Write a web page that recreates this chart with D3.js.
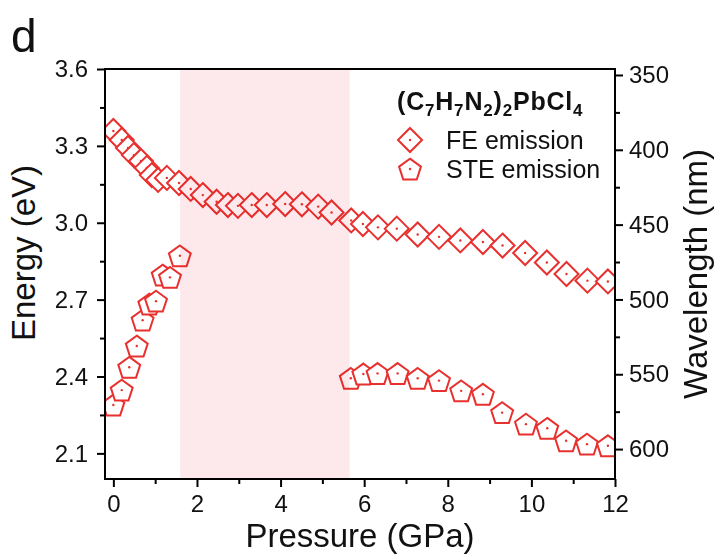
<!DOCTYPE html>
<html>
<head>
<meta charset="utf-8">
<script src="https://cdn.jsdelivr.net/npm/d3@7"></script>
<style>
  body { margin: 0; background: #fff; }
  text { font-family: 'Liberation Sans', Arial, sans-serif; }
</style>
</head>
<body>
<div id="chart"></div>
<script>
// FE emission (diamonds)
const fePressure = [0.0, 0.20, 0.35, 0.49, 0.66, 0.80, 0.92, 1.07, 1.28, 1.57,
  1.85, 2.14, 2.47, 2.74, 2.98, 3.31, 3.67, 4.11, 4.51, 4.90,
  5.22, 5.69, 5.97, 6.33, 6.78, 7.28, 7.79, 8.30, 8.84, 9.31,
  9.85, 10.37, 10.84, 11.34, 11.83]
const feEnergy = [3.358, 3.323, 3.292, 3.264, 3.241, 3.214, 3.186, 3.167, 3.175, 3.155,
  3.132, 3.108, 3.082, 3.069, 3.066, 3.069, 3.069, 3.073, 3.072, 3.063,
  3.040, 3.009, 2.995, 2.982, 2.977, 2.954, 2.945, 2.931, 2.925, 2.911,
  2.882, 2.845, 2.800, 2.774, 2.771]

// STE emission (pentagons)
const stePressure = [0.0, 0.20, 0.38, 0.56, 0.70, 0.86, 1.02, 1.18, 1.355, 1.59,
  5.68, 5.98, 6.32, 6.80, 7.28, 7.79, 8.32, 8.84, 9.30, 9.87, 10.38, 10.83, 11.33, 11.83]
const steEnergy = [2.289, 2.347, 2.436, 2.519, 2.620, 2.683, 2.694, 2.796, 2.787, 2.871,
  2.393, 2.410, 2.412, 2.412, 2.393, 2.384, 2.344, 2.331, 2.259, 2.214, 2.198, 2.149, 2.136, 2.130]

// shaded pressure range (GPa)
const bandRange = [1.6, 5.65]

const xDomain = [-0.2, 12]
const yDomain = [2.0, 3.6]
const wlDomain = [620, 346]
const xTicks = [0, 2, 4, 6, 8, 10, 12]
const xMinorTicks = [1, 3, 5, 7, 9, 11]
const yTicks = [2.1, 2.4, 2.7, 3.0, 3.3, 3.6]
const yMinorTicks = [2.25, 2.55, 2.85, 3.15, 3.45]
const wlTicks = [350, 400, 450, 500, 550, 600]
const wlMinorTicks = [375, 425, 475, 525, 575]

const width = 726
const height = 556
const plotLeft = 105, plotRight = 615, plotTop = 69, plotBottom = 479
const red = '#e8302e'
const bandColor = '#fde8eb'

const svg = d3.select('#chart')
  .append('svg')
  .attr('width', width)
  .attr('height', height)
  .attr('viewBox', `0 0 ${width} ${height}`)

const x = d3.scaleLinear().domain(xDomain).range([plotLeft, plotRight])
const y = d3.scaleLinear().domain(yDomain).range([plotBottom, plotTop])
const yWl = d3.scaleLinear().domain(wlDomain).range([plotBottom, plotTop])

svg.append('defs').append('clipPath').attr('id', 'plot-clip')
  .append('rect')
  .attr('x', plotLeft).attr('y', plotTop)
  .attr('width', plotRight - plotLeft).attr('height', plotBottom - plotTop)

const plot = svg.append('g').attr('clip-path', 'url(#plot-clip)')

// marker shapes
const diamond = (r) => `M0,${-r}L${r},0L0,${r}L${-r},0Z`
const pentagon = (r) => {
  const pts = d3.range(5).map((k) => {
    const a = -Math.PI / 2 + k * 2 * Math.PI / 5
    return [r * Math.cos(a), r * Math.sin(a) + r * 0.1]
  })
  return 'M' + pts.map((p) => p.join(',')).join('L') + 'Z'
}

function drawSeries(g, px, py, shape) {
  const data = px.map((p, i) => ({ p, e: py[i] }))
  const pts = g.append('g')
    .selectAll('g')
    .data(data)
    .join('g')
    .attr('transform', (d) => `translate(${x(d.p)},${y(d.e)})`)
  pts.append('path')
    .attr('d', shape)
    .attr('fill', '#fff')
    .attr('stroke', red)
    .attr('stroke-width', 2)
    .attr('stroke-linejoin', 'miter')
  pts.append('circle')
    .attr('r', 1.2)
    .attr('fill', red)
}

drawSeries(plot, fePressure, feEnergy, diamond(12))
drawSeries(plot, stePressure, steEnergy, pentagon(11.5))

// pink band, multiplied over the markers
plot.append('rect')
  .attr('x', x(bandRange[0]))
  .attr('y', plotTop)
  .attr('width', x(bandRange[1]) - x(bandRange[0]))
  .attr('height', plotBottom - plotTop)
  .attr('fill', bandColor)
  .style('mix-blend-mode', 'multiply')

// frame
svg.append('rect')
  .attr('x', plotLeft).attr('y', plotTop)
  .attr('width', plotRight - plotLeft).attr('height', plotBottom - plotTop)
  .attr('fill', 'none')
  .attr('stroke', '#000')
  .attr('stroke-width', 2)

function styleAxis(g) {
  g.select('.domain').remove()
  g.selectAll('line').attr('stroke', '#000').attr('stroke-width', 2)
  g.selectAll('text')
    .attr('fill', '#111')
    .style('font-size', '24px')
    .style('font-family', "'Liberation Sans', Arial, sans-serif")
}

// bottom axis
svg.append('g')
  .attr('transform', `translate(0,${plotBottom})`)
  .call(d3.axisBottom(x).tickValues(xTicks).tickSize(8).tickPadding(8).tickFormat(d3.format('d')))
  .call(styleAxis)
svg.append('g')
  .attr('transform', `translate(0,${plotBottom})`)
  .call(d3.axisBottom(x).tickValues(xMinorTicks).tickSize(5).tickFormat(''))
  .call(styleAxis)

// left axis
svg.append('g')
  .attr('transform', `translate(${plotLeft},0)`)
  .call(d3.axisLeft(y).tickValues(yTicks).tickSize(8).tickPadding(9).tickFormat(d3.format('.1f')))
  .call(styleAxis)
svg.append('g')
  .attr('transform', `translate(${plotLeft},0)`)
  .call(d3.axisLeft(y).tickValues(yMinorTicks).tickSize(5).tickFormat(''))
  .call(styleAxis)

// right axis (wavelength)
svg.append('g')
  .attr('transform', `translate(${plotRight},0)`)
  .call(d3.axisRight(yWl).tickValues(wlTicks).tickSize(8).tickPadding(6).tickFormat(d3.format('d')))
  .call(styleAxis)
svg.append('g')
  .attr('transform', `translate(${plotRight},0)`)
  .call(d3.axisRight(yWl).tickValues(wlMinorTicks).tickSize(5).tickFormat(''))
  .call(styleAxis)

// axis titles
svg.append('text')
  .attr('x', (plotLeft + plotRight) / 2)
  .attr('y', 547)
  .attr('text-anchor', 'middle')
  .attr('font-size', 33)
  .attr('fill', '#111')
  .text('Pressure (GPa)')

svg.append('text')
  .attr('transform', `translate(35,253) rotate(-90)`)
  .attr('text-anchor', 'middle')
  .attr('font-size', 33)
  .attr('fill', '#111')
  .text('Energy (eV)')

svg.append('text')
  .attr('transform', `translate(707,274) rotate(-90)`)
  .attr('text-anchor', 'middle')
  .attr('font-size', 33)
  .attr('fill', '#111')
  .text('Wavelength (nm)')

// panel letter
svg.append('text')
  .attr('x', 11)
  .attr('y', 52)
  .attr('font-size', 46)
  .attr('fill', '#111')
  .text('d')

// legend
const legend = svg.append('g')
const title = legend.append('text')
  .attr('x', 397)
  .attr('y', 110)
  .attr('font-size', 25)
  .attr('font-weight', 700)
  .attr('fill', '#111')
const titleParts = [['(C', 0], ['7', 1], ['H', 0], ['7', 1], ['N', 0], ['2', 1], [')', 0], ['2', 1], ['PbCl', 0], ['4', 1]]
let prevSub = 0
titleParts.forEach(([t, sub]) => {
  title.append('tspan')
    .attr('dy', (sub - prevSub) * 6)
    .attr('font-size', sub ? 17 : 25)
    .attr('letter-spacing', 0.8)
    .text(t)
  prevSub = sub
})

const legendItems = [
  { label: 'FE emission', shape: diamond(12), cy: 140 },
  { label: 'STE emission', shape: pentagon(11.5), cy: 169 },
]
legendItems.forEach((item) => {
  const g = legend.append('g').attr('transform', `translate(410,${item.cy})`)
  g.append('path')
    .attr('d', item.shape)
    .attr('fill', '#fff')
    .attr('stroke', red)
    .attr('stroke-width', 2)
  g.append('circle').attr('r', 1.2).attr('fill', red)
  legend.append('text')
    .attr('x', 446)
    .attr('y', item.cy + 9)
    .attr('font-size', 25)
    .attr('fill', '#111')
    .text(item.label)
})
</script>
</body>
</html>
